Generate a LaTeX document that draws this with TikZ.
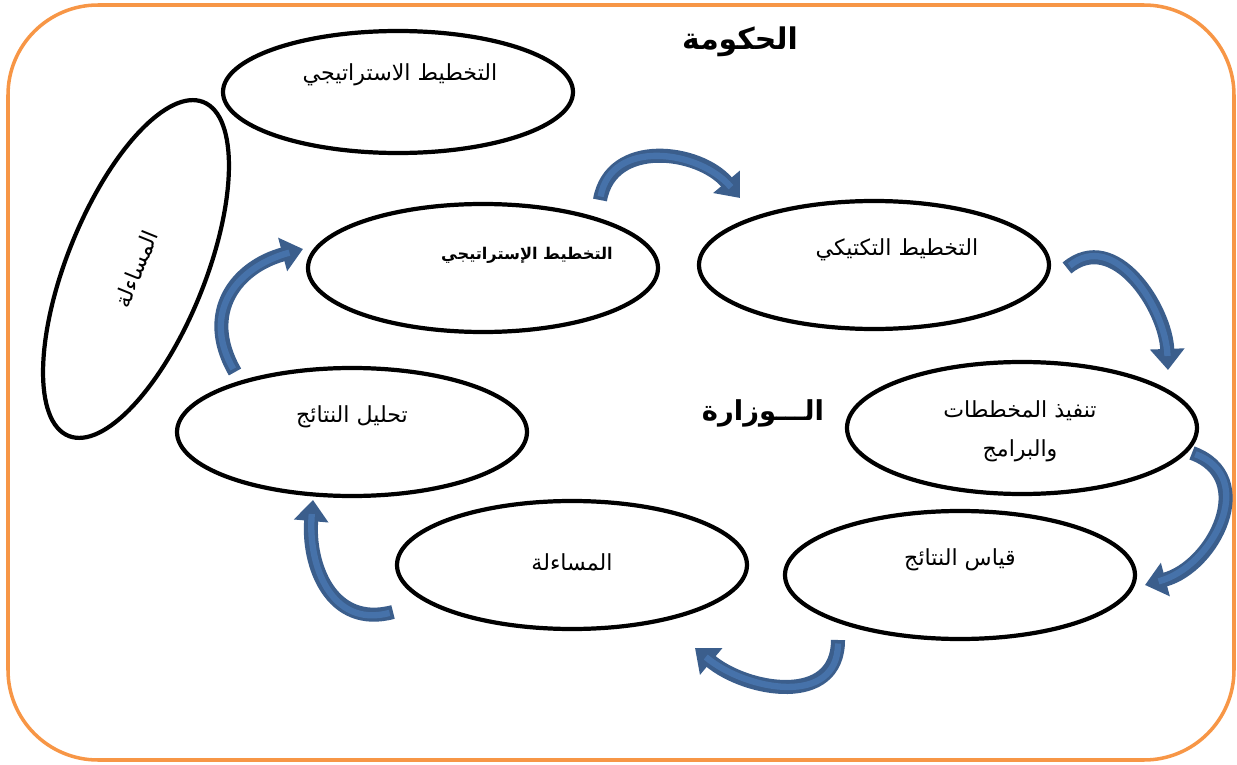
\documentclass[tikz,border=0pt]{standalone}
\usepackage{fontspec}
\usepackage{tikz}
\usetikzlibrary{shapes.geometric,arrows.meta}
\newfontfamily\arabicfont[Script=Arabic]{DejaVu Sans}
\TeXXeTstate=1
\definecolor{frameorange}{HTML}{F79646}
\definecolor{arrowdark}{HTML}{3B5E8C}
\definecolor{arrowlight}{HTML}{4672AA}
\tikzset{
  stage/.style={ellipse, draw=black, line width=1.2pt, minimum width=3.5cm,
                minimum height=1.28cm, inner sep=0pt},
  txt/.style={font=\arabicfont\fontsize{6.3}{11}\selectfont, align=center},
  cyc/.style={line width=4pt, draw=arrowdark, -{Triangle[length=6pt,width=9.5pt]},
              postaction={draw=arrowlight, line width=1.8pt, -, shorten >=4pt, shorten <=1pt}},
}

\begin{document}
\begin{tikzpicture}

    \useasboundingbox (0,0) rectangle (12.37,7.64);

    % Frame
    \draw[frameorange, line width=1pt, rounded corners=0.9cm] (0.08,0.04) rectangle (12.34,7.59);

    % Titles
    \node[txt, font=\arabicfont\bfseries\fontsize{8.5}{10}\selectfont] (gov) at (7.40,7.22) {\beginR الحكومة\endR};
    \node[txt, font=\arabicfont\bfseries\fontsize{7.8}{10}\selectfont] (ministry) at (7.63,3.51) {\beginR الـــوزارة\endR};

    % Government level
    \node[stage, minimum height=1.22cm] (govplan) at (3.98,6.72) {};
    \node[stage, txt, minimum width=3.6cm, minimum height=1.38cm, rotate=68] (govacc) at (1.36,4.95) {\beginR المساءلة\endR};

    % Ministry cycle
    \node[stage] (strat)    at (4.83,4.96) {};
    \node[stage] (tact)     at (8.74,4.99) {};
    \node[stage, minimum height=1.32cm] (exec) at (10.22,3.36) {};
    \node[stage] (measure)  at (9.60,1.89) {};
    \node[stage] (acc)      at (5.72,1.99) {};
    \node[stage] (analysis) at (3.52,3.32) {};

    % Labels
    \node[txt] (govplan-t) at (4.00,6.89) {\beginR التخطيط الاستراتيجي\endR};
    \node[txt, font=\arabicfont\bfseries\fontsize{4.6}{6}\selectfont] (strat-t) at (5.27,5.09) {\beginR التخطيط الإستراتيجي\endR};
    \node[txt] (tact-t)     at (8.97,5.14) {\beginR التخطيط التكتيكي\endR};
    \node[txt] (exec-t)     at (10.20,3.33) {\beginR تنفيذ المخططات\endR\\\beginR والبرامج\endR};
    \node[txt] (measure-t)  at (9.60,2.04) {\beginR قياس النتائج\endR};
    \node[txt] (acc-t)      at (5.72,2.02) {\beginR المساءلة\endR};
    \node[txt] (analysis-t) at (3.52,3.47) {\beginR تحليل النتائج\endR};

    % Curved arrows
    \draw[cyc] ([shift={(1.17,0.68)}]strat.center) to[out=80,in=130,looseness=1.15] ([shift={(-1.34,0.67)}]tact.center);
    \draw[cyc] ([shift={(1.93,-0.03)}]tact.center) to[out=40,in=92,looseness=1.1] ([shift={(1.46,0.58)}]exec.center);
    \draw[cyc] ([shift={(1.70,-0.25)}]exec.center) to[out=-20,in=15,looseness=1.3] ([shift={(1.85,-0.10)}]measure.center);
    \draw[cyc] ([shift={(-1.22,-0.65)}]measure.center) to[out=-90,in=-40,looseness=1.2] ([shift={(1.23,-0.83)}]acc.center);
    \draw[cyc] ([shift={(-1.79,-0.47)}]acc.center) to[out=195,in=-95,looseness=1.2] ([shift={(-0.39,-0.68)}]analysis.center);
    \draw[cyc] ([shift={(-1.17,0.60)}]analysis.center) to[out=120,in=195,looseness=1.25] ([shift={(-1.80,0.19)}]strat.center);

\end{tikzpicture}
\end{document}
